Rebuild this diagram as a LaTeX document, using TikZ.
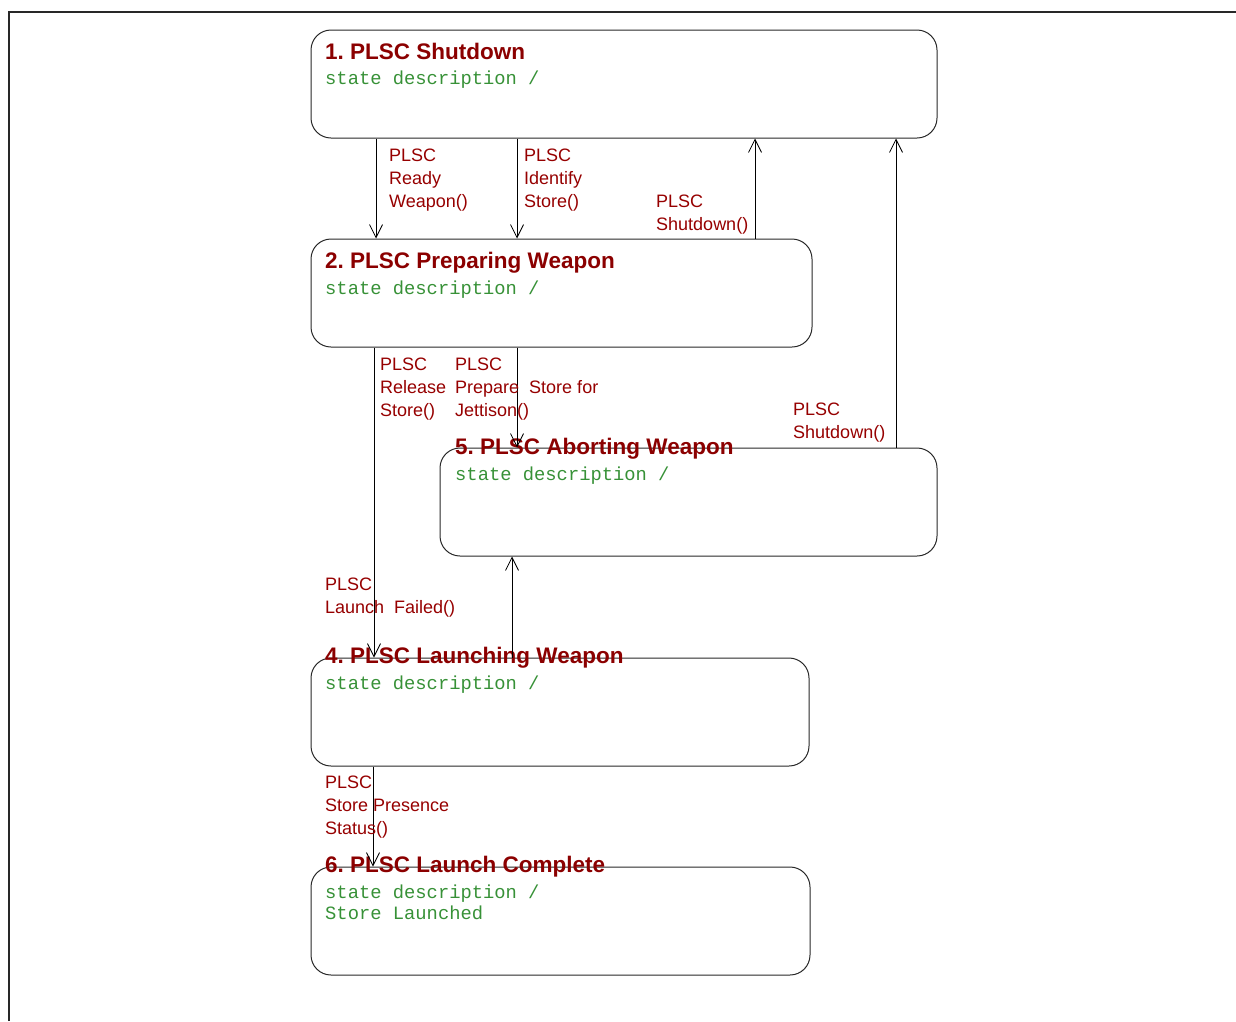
\documentclass[tikz,border=0pt]{standalone}
\usepackage{fontspec}
\setmainfont{Liberation Sans}
\setmonofont{Liberation Mono}
\usetikzlibrary{arrows.meta}
\definecolor{titlered}{RGB}{139,0,0}
\definecolor{labelred}{RGB}{150,0,0}
\definecolor{descgreen}{RGB}{55,145,55}
\definecolor{edge}{RGB}{40,40,40}
\frenchspacing
\begin{document}
\begin{tikzpicture}[x=1pt,y=-1pt,
  statebox/.style={draw=edge, line width=1pt, rounded corners=20pt, rectangle,
    minimum height=108pt, inner sep=0pt},
  statetitle/.style={anchor=base west, inner sep=0pt, text=titlered,
    font=\fontsize{22.5}{25}\selectfont\bfseries},
  statedesc/.style={anchor=base west, inner sep=0pt, text=descgreen, align=left,
    font=\fontsize{18.8}{21}\selectfont\ttfamily},
  translabel/.style={anchor=base west, inner sep=0pt, text=labelred, align=left,
    font=\fontsize{18}{23}\selectfont},
  trans/.style={draw=black, line width=0.8pt,
    -{Straight Barb[length=13pt,width=13pt,line width=0.8pt]}}]
\useasboundingbox (0,0) rectangle (1236,1021);

% page frame
\draw[line width=1.6pt, edge] (9,1021) -- (9,12) -- (1236,12);

% states
\node[statebox, minimum width=626pt] (s1) at (624,84) {};
\node[statebox, minimum width=501pt] (s2) at (561.5,293) {};
\node[statebox, minimum width=497pt] (s5) at (688.5,502) {};
\node[statebox, minimum width=498pt] (s4) at (560,712) {};
\node[statebox, minimum width=499pt] (s6) at (560.5,921) {};

% multi-line texts are anchored on the baseline of their last line
\node[statetitle] (t1) at (325,59) {1. PLSC Shutdown};
\node[statedesc]  (d1) at (325,84) {state description /};
\node[statetitle] (t2) at (325,268) {2. PLSC Preparing Weapon};
\node[statedesc]  (d2) at (325,294) {state description /};
\node[statetitle] (t5) at (455,454) {5. PLSC Aborting Weapon};
\node[statedesc]  (d5) at (455,480) {state description /};
\node[statetitle] (t4) at (325,663) {4. PLSC Launching Weapon};
\node[statedesc]  (d4) at (325,689) {state description /};
\node[statetitle] (t6) at (325,872) {6. PLSC Launch Complete};
\node[statedesc]  (d6) at (325,919) {state description /\\Store Launched};

% transition columns
\coordinate (xa) at (376,0);
\coordinate (xb) at (517,0);
\coordinate (xc) at (755,0);
\coordinate (xd) at (896,0);
\coordinate (xe) at (374,0);
\coordinate (xf) at (512,0);
\coordinate (xg) at (373,0);

% transitions
\draw[trans] (s1.south -| xa) -- (s2.north -| xa);
\draw[trans] (s1.south -| xb) -- (s2.north -| xb);
\draw[trans] (s2.north -| xc) -- (s1.south -| xc);
\draw[trans] (s5.north -| xd) -- (s1.south -| xd);
\draw[trans] (s2.south -| xb) -- (s5.north -| xb);
\draw[trans] (s2.south -| xe) -- (s4.north -| xe);
\draw[trans] (s4.north -| xf) -- (s5.south -| xf);
\draw[trans] (s4.south -| xg) -- (s6.north -| xg);

% transition labels
\node[translabel] (l1) at (389,207) {PLSC\\Ready\\Weapon()};
\node[translabel] (l2) at (524,207) {PLSC\\Identify\\Store()};
\node[translabel] (l3) at (656,230) {PLSC\\Shutdown()};
\node[translabel] (l4) at (793,438) {PLSC\\Shutdown()};
\node[translabel] (l5) at (380,416) {PLSC\\Release\\Store()};
\node[translabel] (l6) at (455,416) {PLSC\\Prepare\ \ Store for\\Jettison()};
\node[translabel] (l7) at (325,613) {PLSC\\Launch\ \ Failed()};
\node[translabel] (l8) at (325,834) {PLSC\\Store Presence\\Status()};
\end{tikzpicture}
\end{document}
